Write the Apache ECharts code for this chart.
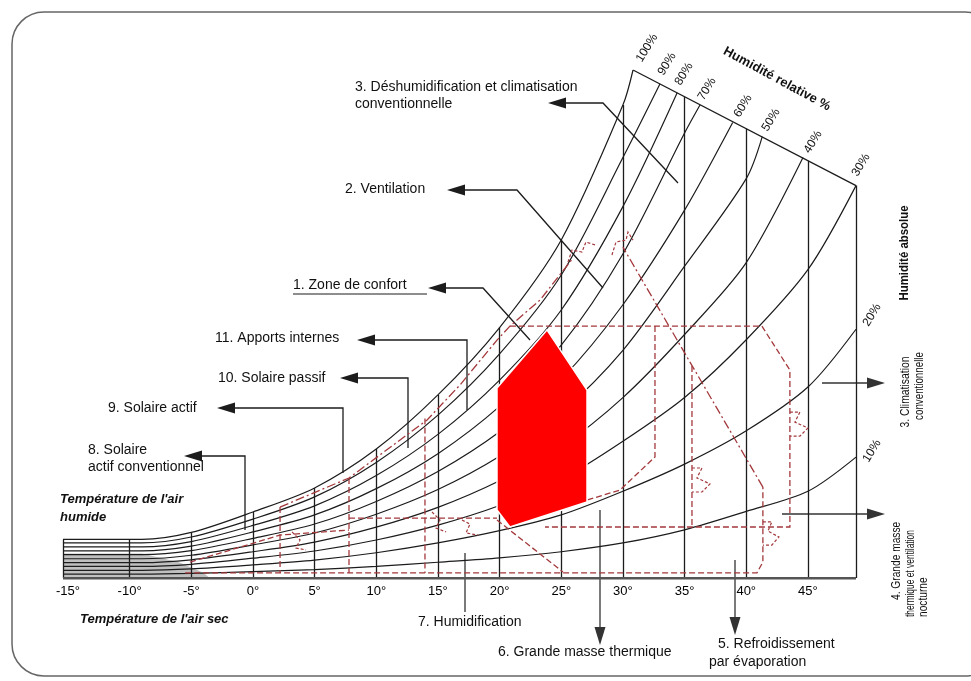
<!DOCTYPE html>
<html>
<head>
<meta charset="utf-8">
<title>Diagramme bioclimatique</title>
<script src="https://cdn.jsdelivr.net/npm/echarts@6/dist/echarts.min.js"></script>
<style>
  html, body { margin: 0; padding: 0; background: #fff; }
  #chart { width: 971px; height: 681px; }
</style>
</head>
<body>
<div id="chart"></div>
<script>
// température sèche (°C) des points lus sur chaque courbe
const tempGrid = [-15.4, -9, -5, 0, 5, 10, 15, 20, 25, 30, 35, 40, 45];
const tickTemps = [-15, -10, -5, 0, 5, 10, 15, 20, 25, 30, 35, 40, 45];

// humidité absolue (g/kg) des courbes d'humidité relative, + point final sur le bord
const rh100 = [2.2, 2.2, 2.6, 3.77, 5.14, 7.36, 10.45, 14.3, 19.3, 27.0];
const rh90 = [2.0, 2.0, 2.34, 3.36, 4.63, 6.6, 9.3, 12.8, 17.3, 24.0];
const rh80 = [1.78, 1.78, 2.08, 3.0, 4.12, 5.85, 8.2, 11.3, 15.3, 21.2];
const rh70 = [1.55, 1.55, 1.82, 2.63, 3.6, 5.1, 7.1, 9.8, 13.3, 18.5, 25.4];
const rh60 = [1.33, 1.33, 1.56, 2.26, 3.08, 4.37, 6.08, 8.35, 11.35, 15.6, 21.0];
const rh50 = [1.1, 1.1, 1.3, 1.89, 2.57, 3.64, 5.05, 6.95, 9.45, 13.0, 17.8, 22.8];
const rh40 = [0.88, 0.88, 1.04, 1.5, 2.05, 2.9, 4.03, 5.55, 7.5, 10.3, 13.9, 18.0];
const rh30 = [0.66, 0.66, 0.78, 1.13, 1.54, 2.17, 3.02, 4.14, 5.62, 7.8, 10.3, 13.6, 17.6];
const rh20 = [0.44, 0.44, 0.52, 0.75, 1.02, 1.44, 2.0, 2.7, 3.6, 4.95, 6.5, 8.4, 10.9];
const rh10 = [0.22, 0.22, 0.26, 0.36, 0.48, 0.66, 0.9, 1.15, 1.5, 2.0, 2.75, 3.8, 4.95];
const rhEnds = [[30.82, 29.0], [33.0, 28.2], [34.4, 27.7], [36.25, 27.0], [38.9, 26.0],
  [41.3, 25.2], [44.6, 24.0], [48.9, 22.4], [48.9, 14.2], [48.9, 6.9]];

// haut des verticales -10° .. 45°
const tempLineTops = [2.2, 2.6, 3.77, 5.14, 7.36, 10.45, 14.3, 19.3, 27.0, 27.47, 25.65, 23.82];
const topEdge = [[30.82, 29.0], [48.9, 22.4]];

// zone de confort (rouge)
const comfortZone = [[23.84, 14.16], [19.79, 10.84], [19.79, 3.88], [20.84, 2.91], [27.09, 4.34], [27.09, 10.73]];

// limites des stratégies (tirets rouges)
const zoneDashed = [
  [[20.84, 14.38], [41.27, 14.38], [43.54, 11.87], [43.54, 2.91], [23.68, 2.91]],
  [[-5.1, 0.91], [-0.48, 1.88], [2.2, 2.45], [7.79, 2.74]],
  [[2.2, 4.05], [2.2, 0.29]],
  [[7.79, 5.71], [7.79, 0.29]],
  [[13.95, 9.1], [13.95, 0.29]],
  [[7.79, 3.42], [19.79, 3.42]],
  [[-5.5, 0.29], [40.87, 0.29], [41.35, 0.91], [41.35, 5.19]],
  [[32.6, 14.38], [32.6, 6.91], [29.76, 5.02], [27.09, 4.45]],
  [[19.79, 3.31], [25.14, 0.34]],
  [[35.6, 12.1], [35.6, 2.91]]
];
const zoneDashDot = [
  [[2.2, 4.05], [7.79, 5.71], [11.93, 7.88], [14.12, 9.02], [16.79, 11.02], [19.79, 13.58], [20.84, 14.38], [23.28, 15.87], [25.95, 18.26]],
  [[41.35, 5.19], [30.0, 18.89]]
];
// petites flèches sinueuses sur les limites
const zoneSquiggles = [
  [[43.54, 9.47], [44.35, 9.47], [43.95, 8.9], [45.0, 8.56], [44.35, 8.1], [43.54, 8.1]],
  [[35.6, 6.28], [36.41, 6.28], [36.0, 5.71], [37.06, 5.37], [36.41, 4.91], [35.6, 4.91]],
  [[41.35, 3.2], [42.08, 3.2], [41.76, 2.68], [42.65, 2.34], [42.08, 1.88], [41.35, 1.88]],
  [[25.55, 18.04], [25.87, 18.72], [26.68, 18.61], [27.0, 19.18], [27.82, 19.0]],
  [[29.11, 18.44], [29.44, 19.18], [30.25, 19.29], [30.41, 19.75], [30.82, 19.29]],
  [[14.52, 3.77], [15.17, 3.31], [14.85, 2.85], [15.66, 2.63]],
  [[16.95, 3.31], [17.6, 3.08], [17.28, 2.57], [18.25, 2.45]],
  [[3.17, 2.63], [3.82, 2.17], [3.5, 1.71], [4.31, 1.6]]
];
const coldBand = [[-15.4, 0], [-15.4, 1.4], [-9, 1.4], [-6, 0.9], [-4, 0.3], [-3.5, 0]];

const FONT = '"Liberation Sans", Arial, sans-serif';
const INK = '#1c1c1c';
const ZONE = '#a3393c';

const chart = echarts.init(document.getElementById('chart'));

const rhCurves = [rh100, rh90, rh80, rh70, rh60, rh50, rh40, rh30, rh20, rh10];
const rhSeries = rhCurves.map((vals, k) => ({
  type: 'line',
  data: vals.map((w, i) => [tempGrid[i], w]).concat([rhEnds[k]]),
  smooth: 0.3,
  symbol: 'none',
  silent: true,
  lineStyle: { color: INK, width: 1.2 },
  z: 3
}));

const frameLines = tickTemps.slice(1).map((t, i) => ({ coords: [[t, 0], [t, tempLineTops[i]]] }));
frameLines.push({ coords: [[-15.4, 0], [-15.4, rh100[0]]] });
frameLines.push({ coords: [[48.9, 0], [48.9, topEdge[1][1]]] });
frameLines.push({ coords: topEdge });

// polygone rempli en coordonnées du graphique
const polygonSeries = (pts, style, z) => ({
  type: 'custom',
  silent: true,
  z,
  data: pts,
  encode: { x: 0, y: 1 },
  renderItem: (params, api) => {
    if (params.dataIndex !== 0) return null;
    return { type: 'polygon', shape: { points: pts.map(p => api.coord(p)) }, style };
  }
});

// flèches et textes d'annotation (pixels)
function arrow(pts, color) {
  const n = pts.length;
  const [x1, y1] = pts[n - 2];
  const [x2, y2] = pts[n - 1];
  const len = Math.hypot(x2 - x1, y2 - y1);
  const ux = (x2 - x1) / len, uy = (y2 - y1) / len;
  const L = 18, W = 5.5;
  const bx = x2 - ux * L, by = y2 - uy * L;
  return [
    { type: 'polyline', shape: { points: pts.slice(0, n - 1).concat([[bx, by]]) }, style: { stroke: color || INK, lineWidth: 1.3, fill: null } },
    { type: 'polygon', shape: { points: [[x2, y2], [bx - uy * W, by + ux * W], [bx + uy * W, by - ux * W]] }, style: { fill: color || INK } }
  ];
}
function label(text, x, y, o = {}) {
  return {
    type: 'text', x, y, rotation: o.rot || 0, scaleX: o.sx || 1,
    style: { text, x: 0, y: 0, font: o.font || `14px ${FONT}`, fill: '#111', align: o.align || 'left', verticalAlign: 'middle' }
  };
}
const deg = a => a * Math.PI / 180;

const graphics = [
  { type: 'rect', shape: { x: 12, y: 12, width: 985, height: 664, r: 32 }, style: { fill: null, stroke: '#666', lineWidth: 1.5 } },
  ...arrow([[530, 340], [483, 288], [428, 288]]),
  ...arrow([[603, 288], [517, 190], [447, 190]]),
  ...arrow([[678, 183], [603, 103], [548, 103]]),
  ...arrow([[467, 410], [467, 340], [357, 340]]),
  ...arrow([[408, 448], [408, 378], [340, 378]]),
  ...arrow([[343, 473], [343, 408], [217, 408]]),
  ...arrow([[245, 530], [245, 456], [184, 456]]),
  ...arrow([[600, 510], [600, 645]], '#333'),
  ...arrow([[735, 560], [735, 635]], '#333'),
  ...arrow([[822, 383], [885, 383]], '#333'),
  ...arrow([[782, 514], [885, 514]], '#333'),
  { type: 'polyline', shape: { points: [[465, 553], [465, 612]] }, style: { stroke: '#333', lineWidth: 1.3, fill: null } },
  { type: 'line', shape: { x1: 293, y1: 294, x2: 427, y2: 294 }, style: { stroke: INK, lineWidth: 1.2 } },

  label('3. Déshumidification et climatisation', 355, 87),
  label('conventionnelle', 355, 104),
  label('2. Ventilation', 345, 189),
  label('1. Zone de confort', 293, 285),
  label('11. Apports internes', 215, 338),
  label('10. Solaire passif', 218, 378),
  label('9. Solaire actif', 108, 408),
  label('8. Solaire', 88, 450),
  label('actif conventionnel', 88, 467),
  label("Température de l'air", 60, 499, { font: `italic bold 13px ${FONT}` }),
  label('humide', 60, 517, { font: `italic bold 13px ${FONT}` }),
  label("Température de l'air sec", 80, 619, { font: `italic bold 13px ${FONT}` }),
  label('7. Humidification', 418, 622),
  label('6. Grande masse thermique', 498, 652),
  label('5. Refroidissement', 718, 644),
  label('par évaporation', 709, 662),

  label('Humidité relative %', 777, 79, { rot: deg(-28.5), align: 'center', font: `bold 13px ${FONT}` }),
  label('100%', 647, 48, { rot: deg(58), align: 'center', font: `12px ${FONT}` }),
  label('90%', 667, 64, { rot: deg(58), align: 'center', font: `12px ${FONT}` }),
  label('80%', 684, 74, { rot: deg(58), align: 'center', font: `12px ${FONT}` }),
  label('70%', 707, 89, { rot: deg(58), align: 'center', font: `12px ${FONT}` }),
  label('60%', 743, 106, { rot: deg(58), align: 'center', font: `12px ${FONT}` }),
  label('50%', 771, 120, { rot: deg(58), align: 'center', font: `12px ${FONT}` }),
  label('40%', 813, 142, { rot: deg(58), align: 'center', font: `12px ${FONT}` }),
  label('30%', 861, 165, { rot: deg(58), align: 'center', font: `12px ${FONT}` }),
  label('20%', 872, 315, { rot: deg(58), align: 'center', font: `12px ${FONT}` }),
  label('10%', 872, 451, { rot: deg(58), align: 'center', font: `12px ${FONT}` }),

  label('Humidité absolue', 905, 253, { rot: deg(90), align: 'center', font: `bold 12px ${FONT}`, sx: 0.95 }),
  label('3. Climatisation', 905, 392, { rot: deg(90), align: 'center', font: `13px ${FONT}`, sx: 0.8 }),
  label('conventionnelle', 919, 386, { rot: deg(90), align: 'center', font: `13px ${FONT}`, sx: 0.75 }),
  label('4. Grande masse', 897, 600, { rot: deg(90), align: 'left', font: `12px ${FONT}`, sx: 0.85 }),
  label('thermique et ventilation', 911, 617, { rot: deg(90), align: 'left', font: `12px ${FONT}`, sx: 0.7 }),
  label('nocturne', 924, 617, { rot: deg(90), align: 'left', font: `12px ${FONT}`, sx: 0.85 })
];

const option = {
  backgroundColor: '#fff',
  animation: false,
  grid: { left: 63, right: 115, top: 70, bottom: 103 },
  xAxis: {
    type: 'value',
    min: -15.4,
    max: 48.9,
    axisLine: { show: false },
    axisTick: { show: false },
    splitLine: { show: false },
    axisLabel: {
      customValues: tickTemps,
      formatter: v => v + '°',
      margin: 7,
      color: '#000',
      fontFamily: FONT,
      fontSize: 13
    }
  },
  yAxis: { type: 'value', min: 0, max: 29, show: false },
  graphic: graphics,
  series: [
    polygonSeries(coldBand, { fill: '#8c8c8c', opacity: 0.55 }, 1),
    ...rhSeries,
    {
      type: 'lines', coordinateSystem: 'cartesian2d', silent: true, z: 3,
      data: frameLines,
      lineStyle: { color: INK, width: 1.3, opacity: 1 }
    },
    {
      type: 'lines', coordinateSystem: 'cartesian2d', silent: true, z: 5,
      data: [{ coords: [[-15.4, 0], [48.9, 0]] }],
      lineStyle: { color: '#555', width: 3, opacity: 1 }
    },
    {
      type: 'lines', coordinateSystem: 'cartesian2d', polyline: true, silent: true, z: 4,
      data: zoneDashed.map(c => ({ coords: c })),
      lineStyle: { color: ZONE, width: 1.3, type: [6, 3], opacity: 1 }
    },
    {
      type: 'lines', coordinateSystem: 'cartesian2d', polyline: true, silent: true, z: 4,
      data: zoneDashDot.map(c => ({ coords: c })),
      lineStyle: { color: ZONE, width: 1.3, type: [9, 3, 2, 3], opacity: 1 }
    },
    {
      type: 'lines', coordinateSystem: 'cartesian2d', polyline: true, silent: true, z: 4,
      data: zoneSquiggles.map(c => ({ coords: c })),
      lineStyle: { color: ZONE, width: 1.2, type: [3, 2], opacity: 1 }
    },
    polygonSeries(comfortZone, { fill: '#ff0000', stroke: '#ffffff', lineWidth: 1.5 }, 6)
  ]
};
chart.setOption(option);
</script>
</body>
</html>
